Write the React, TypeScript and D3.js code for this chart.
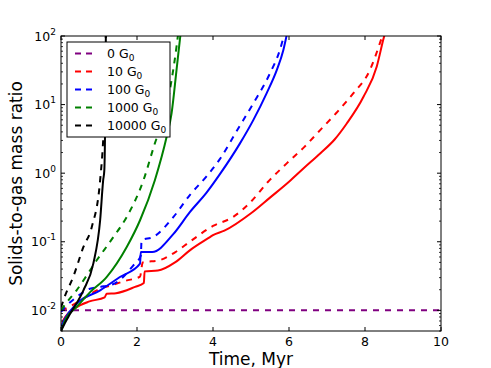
import React from 'react';
import * as d3 from 'd3';

const W = 491;
const H = 368;
const margin = { top: 36, right: 50, bottom: 37, left: 61 };

const xTicks = [0, 2, 4, 6, 8, 10];
const yExponents = [-2, -1, 0, 1, 2];
const legendLabels = ['0', '10', '100', '1000', '10000'];
const colors = ['#800080', '#ff0000', '#0000ff', '#008000', '#000000'];

// 0 G0 (dashed only)
const purpleT = [0, 10];
const purpleR = [0.01, 0.01];

// 10 G0
const redSolidT = [0, 0.06, 0.4, 0.75, 1.15, 1.2, 1.45, 1.95, 2.18, 2.2, 2.55, 3.0, 3.39, 3.92, 4.0, 4.3, 5.0, 5.5, 6.0, 6.4, 6.82, 7.2, 7.52, 7.96, 8.31, 8.48, 8.56];
const redSolidR = [0.0051, 0.0072, 0.011, 0.0135, 0.0155, 0.0175, 0.0178, 0.022, 0.025, 0.037, 0.038, 0.05, 0.075, 0.117, 0.125, 0.145, 0.26, 0.44, 0.75, 1.2, 1.94, 3.1, 5.3, 13, 36, 88, 130];
const redDashT = [0, 0.25, 0.6, 1.03, 1.3, 1.7, 2.08, 2.15, 2.6, 3.0, 3.39, 4.0, 4.53, 4.97, 5.45, 5.94, 6.4, 6.82, 7.25, 7.69, 8.13, 8.39, 8.5];
const redDashR = [0.01, 0.0115, 0.015, 0.0207, 0.023, 0.027, 0.031, 0.05, 0.054, 0.07, 0.1, 0.17, 0.23, 0.37, 0.75, 1.39, 2.4, 4.25, 7.6, 14.6, 32, 78, 120];

// 100 G0
const blueSolidT = [0, 0.1, 0.41, 1.03, 1.55, 2.08, 2.1, 2.4, 2.96, 3.39, 3.83, 4.2, 4.71, 5.06, 5.41, 5.68, 5.85, 5.95];
const blueSolidR = [0.0057, 0.0075, 0.0125, 0.0196, 0.0306, 0.048, 0.071, 0.071, 0.13, 0.27, 0.52, 1.0, 2.72, 5.94, 14.6, 32, 62, 110];
const blueDashT = [0, 0.1, 0.41, 0.76, 1.03, 1.42, 1.9, 2.1, 2.12, 2.43, 2.96, 3.39, 3.83, 4.18, 4.62, 5.06, 5.5, 5.76, 5.9];
const blueDashR = [0.0095, 0.011, 0.0156, 0.0207, 0.0219, 0.0248, 0.045, 0.063, 0.105, 0.1175, 0.23, 0.48, 0.9, 1.6, 4.1, 10.4, 28.6, 62.5, 120];

// 1000 G0
const greenSolidT = [0, 0.13, 0.41, 0.76, 1.2, 1.73, 2.08, 2.47, 2.78, 2.91, 3.04, 3.14, 3.18];
const greenSolidR = [0.005, 0.0076, 0.0112, 0.0183, 0.0306, 0.084, 0.206, 0.79, 3.39, 7.45, 31.9, 100, 150];
const greenDashT = [0, 0.13, 0.41, 0.94, 1.38, 1.73, 2.17, 2.47, 2.74, 2.91, 3.04, 3.1];
const greenDashR = [0.01, 0.0126, 0.0196, 0.0537, 0.1175, 0.23, 0.79, 2.72, 7.45, 22.8, 69.8, 130];

// 10000 G0
const blackSolidT = [0, 0.1, 0.24, 0.59, 0.85, 1.03, 1.11, 1.14, 1.16, 1.18, 1.19];
const blackSolidR = [0.005, 0.0065, 0.0089, 0.0196, 0.048, 0.206, 0.79, 1.1, 4.25, 100, 150];
const blackDashT = [0, 0.1, 0.32, 0.59, 0.81, 1.03, 1.11, 1.16, 1.18, 1.19];
const blackDashR = [0.011, 0.016, 0.0306, 0.084, 0.164, 0.79, 3.03, 13, 100, 150];

const series = [
  { t: purpleT, r: purpleR, color: colors[0], dashed: true },
  { t: redSolidT, r: redSolidR, color: colors[1], dashed: false },
  { t: redDashT, r: redDashR, color: colors[1], dashed: true },
  { t: blueSolidT, r: blueSolidR, color: colors[2], dashed: false },
  { t: blueDashT, r: blueDashR, color: colors[2], dashed: true },
  { t: greenSolidT, r: greenSolidR, color: colors[3], dashed: false },
  { t: greenDashT, r: greenDashR, color: colors[3], dashed: true },
  { t: blackSolidT, r: blackSolidR, color: colors[4], dashed: false },
  { t: blackDashT, r: blackDashR, color: colors[4], dashed: true },
];

const font = 'DejaVu Sans, sans-serif';

export default function App() {
  const iw = W - margin.left - margin.right;
  const ih = H - margin.top - margin.bottom;
  const x = d3.scaleLinear().domain([0, 10]).range([0, iw]);
  const y = d3.scaleLog().domain([0.005, 100]).range([ih, 0]);

  const line = d3
    .line<[number, number]>()
    .x(d => x(d[0]))
    .y(d => y(d[1]))
    .curve(d3.curveMonotoneX);

  const minor: number[] = [];
  for (let e = -3; e <= 1; e++) {
    for (let m = 2; m <= 9; m++) {
      const v = m * Math.pow(10, e);
      if (v >= 0.005 && v <= 100) minor.push(v);
    }
  }

  return (
    <svg
      width={W}
      height={H}
      style={{ position: 'absolute', left: 0, top: 0, background: '#fff' }}
      fontFamily={font}
    >
      <defs>
        <clipPath id="plot">
          <rect x={0} y={0} width={iw} height={ih} />
        </clipPath>
      </defs>
      <g transform={`translate(${margin.left},${margin.top})`}>
        <g clipPath="url(#plot)">
          {series.map((s, i) => (
            <path
              key={i}
              d={line(s.t.map((t, j) => [t, s.r[j]] as [number, number])) || ''}
              fill="none"
              stroke={s.color}
              strokeWidth={2}
              strokeDasharray={s.dashed ? '6,6' : undefined}
            />
          ))}
        </g>

        {/* frame */}
        <rect x={0} y={0} width={iw} height={ih} fill="none" stroke="#000" strokeWidth={1} />

        {/* x ticks */}
        {xTicks.map(t => (
          <g key={t}>
            <line x1={x(t)} x2={x(t)} y1={ih} y2={ih - 4} stroke="#000" />
            <line x1={x(t)} x2={x(t)} y1={0} y2={4} stroke="#000" />
            <text x={x(t)} y={ih + 14.5} textAnchor="middle" fontSize={12.5}>
              {t}
            </text>
          </g>
        ))}

        {/* y ticks */}
        {yExponents.map(e => {
          const v = Math.pow(10, e);
          return (
            <g key={e}>
              <line x1={0} x2={4} y1={y(v)} y2={y(v)} stroke="#000" />
              <line x1={iw} x2={iw - 4} y1={y(v)} y2={y(v)} stroke="#000" />
              <text x={-5} y={y(v) + 4.5} textAnchor="end" fontSize={12.5}>
                <tspan>10</tspan>
                <tspan dy={-6} fontSize={9}>
                  {e}
                </tspan>
              </text>
            </g>
          );
        })}
        {minor.map(v => (
          <g key={v}>
            <line x1={0} x2={2} y1={y(v)} y2={y(v)} stroke="#000" strokeWidth={0.8} />
            <line x1={iw} x2={iw - 2} y1={y(v)} y2={y(v)} stroke="#000" strokeWidth={0.8} />
          </g>
        ))}

        {/* legend */}
        <g transform="translate(6,6)">
          <rect x={0} y={0} width={103} height={95} fill="#fff" stroke="#000" strokeWidth={1} />
          {legendLabels.map((l, i) => (
            <g key={l} transform={`translate(0,${11.5 + i * 18})`}>
              <line x1={8} x2={25} y1={0} y2={0} stroke={colors[i]} strokeWidth={2} strokeDasharray="6,5" />
              <text x={40} y={4.5} fontSize={12.5}>
                <tspan>{l} G</tspan>
                <tspan dy={3} fontSize={9}>
                  0
                </tspan>
              </text>
            </g>
          ))}
        </g>
      </g>

      <text x={margin.left + iw / 2} y={H - 3} textAnchor="middle" fontSize={17}>
        Time, Myr
      </text>
      <text
        transform={`translate(${22},${margin.top + ih / 2}) rotate(-90)`}
        textAnchor="middle"
        fontSize={17}
      >
        Solids-to-gas mass ratio
      </text>
    </svg>
  );
}
